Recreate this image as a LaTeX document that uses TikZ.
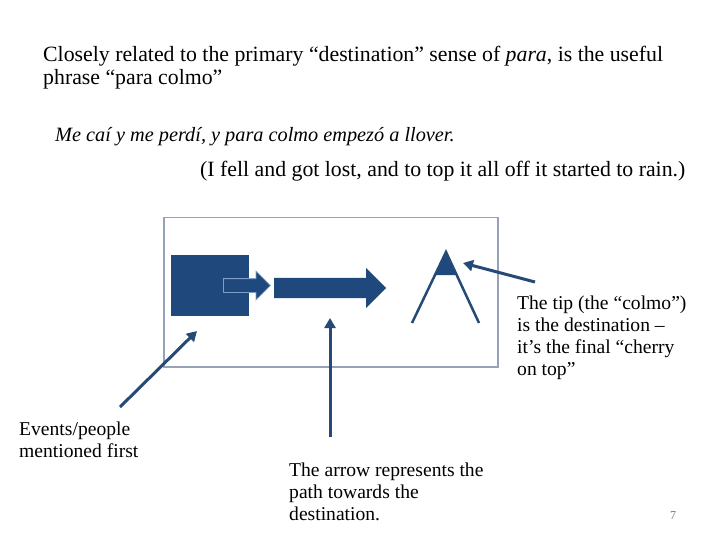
\documentclass[tikz,border=0pt]{standalone}
\usepackage{fontspec}
\setmainfont{Liberation Serif}
\usetikzlibrary{shapes.arrows,arrows.meta}
\definecolor{deepblue}{HTML}{1F497D}
\definecolor{pointblue}{HTML}{254A75}
\definecolor{edgeblue}{HTML}{7F9FCB}
\definecolor{framegray}{HTML}{95A3B6}

\begin{document}
\begin{tikzpicture}[x=1pt,y=-1pt,
    body/.style={anchor=base west,inner sep=0pt,font=\fontsize{21.8}{24}\selectfont},
    note/.style={anchor=base west,inner sep=0pt,align=left,
      font=\fontsize{19.6}{21.8}\selectfont},
    block/.style={fill=deepblue,inner sep=0pt,anchor=north west},
    flow/.style={single arrow,fill=deepblue,inner xsep=0pt,
      single arrow tip angle=90,anchor=tail},
    pointer/.style={pointblue,line width=3pt,
      -{Triangle[length=10pt,width=11pt]}},
    tipleg/.style={pointblue,line width=2.5pt}]
  \useasboundingbox (0,0) rectangle (720,540);
  % heading and example sentence
  \node[body] (intro1) at (43,62)
    {Closely related to the primary “destination” sense of \emph{para}, is the useful};
  \node[body] (intro2) at (43,85) {phrase “para colmo”};
  \node[body,font=\fontsize{20.3}{24}\itshape] (spanish) at (55,142)
    {Me caí y me perdí, y para colmo empezó a llover.};
  \node[body] (english) at (200,177)
    {(I fell and got lost, and to top it all off it started to rain.)};
  % the picture in the frame
  \node[draw=framegray,line width=1.5pt,inner sep=0pt,anchor=north west,
        minimum width=334pt,minimum height=149pt] (frame) at (163,217) {};
  \node[block,minimum width=78pt,minimum height=61pt] (events) at (171,255) {};
  \node[flow,draw=edgeblue,line width=0.8pt,inner ysep=6.5pt,minimum height=47pt,
        single arrow head extend=7.5pt] (small) at (223,285.5) {};
  \node[flow,inner ysep=10pt,minimum height=112pt,
        single arrow head extend=10pt] (path) at (274,288) {};
  \coordinate (apex) at (446,252);
  \coordinate (footl) at (412,323);
  \coordinate (footr) at (479,323);
  \fill[deepblue] (apex) -- (435,275) -- (457,275) -- cycle;
  \draw[tipleg] (footl) -- (apex) -- (footr);
  % labels (placed by the baseline of their last line)
  \node[note] (tiptext) at (517,375) {The tip (the “colmo”)\\is the destination –\\it’s the final “cherry\\on top”};
  \node[note] (evtext) at (19,457) {Events/people\\mentioned first};
  \node[note] (pathtext) at (289,520) {The arrow represents the\\path towards the\\destination.};
  \node[anchor=base,inner sep=0pt,text=black!55,font=\fontsize{12}{14}\selectfont] (pagenum) at (673,519) {7};
  % pointers
  \coordinate (tipfoot) at (535,282);
  \coordinate (tiphead) at (463,263);
  \coordinate (evfoot) at (120,407);
  \coordinate (evhead) at (197,331);
  \coordinate (pathfoot) at (330,437);
  \coordinate (pathhead) at (330,318);
  \draw[pointer] (tipfoot) -- (tiphead);
  \draw[pointer] (evfoot) -- (evhead);
  \draw[pointer] (pathfoot) -- (pathhead);
\end{tikzpicture}
\end{document}
